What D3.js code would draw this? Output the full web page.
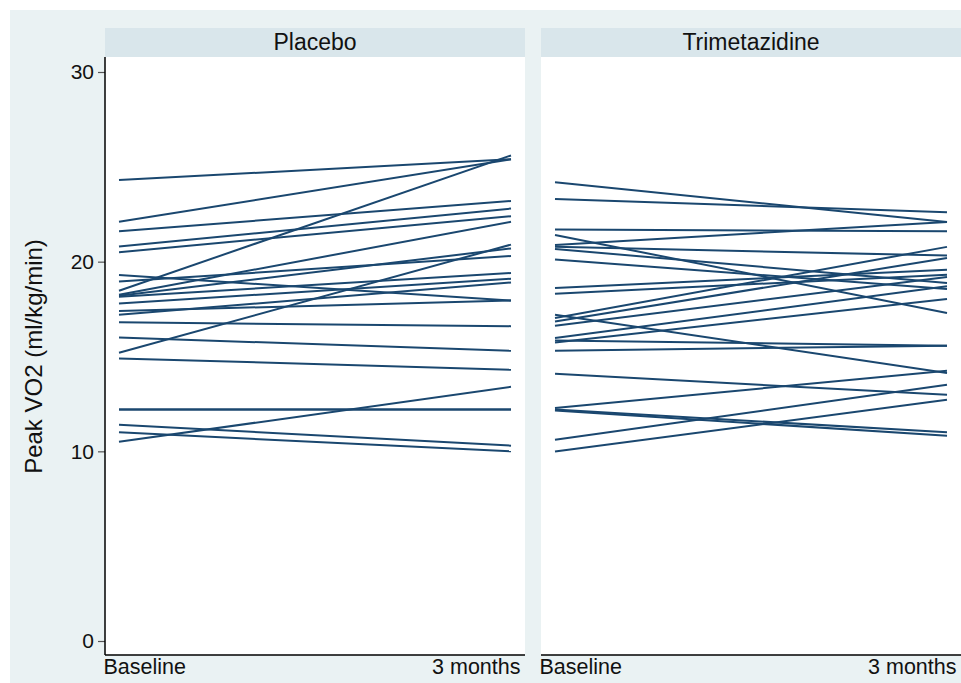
<!DOCTYPE html>
<html>
<head>
<meta charset="utf-8">
<script src="https://cdn.jsdelivr.net/npm/d3@7"></script>
<style>
  body { margin: 0; background: #fff; }
  text { font-family: "Liberation Sans", Arial, sans-serif; }
</style>
</head>
<body>
<script>
const WIDTH = 961
const HEIGHT = 683

// donnees
const groups = ["Placebo", "Trimetazidine"]
const timepoints = ["Baseline", "3 months"]
const yTicks = [0, 10, 20, 30]

const placeboBaseline = [24.3, 22.1, 21.6, 20.8, 20.5, 19.3, 18.95, 18.47, 18.25, 18.2, 18.15, 17.8, 17.4, 17.2, 16.8, 16.0, 15.2, 14.9, 12.2, 12.2, 11.4, 11.0, 10.5]
const placeboMonth3 = [25.4, 25.4, 23.2, 22.8, 22.4, 17.95, 20.3, 25.6, 22.1, 20.7, 19.4, 19.1, 17.95, 18.9, 16.6, 15.3, 20.9, 14.3, 12.2, 12.2, 10.3, 10.0, 13.4]

const tmzBaseline = [24.19, 23.31, 21.69, 21.41, 20.88, 20.78, 20.67, 20.11, 18.61, 18.31, 17.2, 17.03, 16.85, 16.62, 15.97, 15.85, 15.74, 15.3, 14.09, 12.28, 12.2, 12.15, 10.61, 9.99]
const tmzMonth3 = [22.09, 22.6, 21.6, 17.29, 22.09, 20.32, 18.88, 18.56, 19.58, 19.31, 14.13, 20.78, 20.19, 19.19, 18.7, 15.57, 18.03, 15.57, 12.98, 14.25, 11.0, 10.82, 13.51, 12.72]

const panels = [
  { name: groups[0], pairs: placeboBaseline.map((b, i) => [b, placeboMonth3[i]]) },
  { name: groups[1], pairs: tmzBaseline.map((b, i) => [b, tmzMonth3[i]]) }
]

const PANEL_W = 420
const PANEL_X = [105, 541]
const STRIP_TOP = 28
const PLOT_TOP = 57
const PLOT_BOTTOM = 655

const svg = d3.select('body').append('svg').attr('width', WIDTH).attr('height', HEIGHT)

// fond general
svg.append('rect')
  .attr('x', 10).attr('y', 10)
  .attr('width', WIDTH - 10).attr('height', HEIGHT - 10)
  .attr('fill', '#eaf2f3')

const y = d3.scaleLinear().domain([0, 30]).range([641, 72])
const x = d3.scalePoint().domain(timepoints).range([14, 406])

const line = d3.line()
  .x((d, i) => x(timepoints[i]))
  .y(d => y(d))

panels.forEach((p, k) => {
  const g = svg.append('g').attr('transform', `translate(${PANEL_X[k]}, 0)`)

  // bandeau du titre
  g.append('rect')
    .attr('x', 0).attr('y', STRIP_TOP)
    .attr('width', PANEL_W).attr('height', PLOT_TOP - STRIP_TOP)
    .attr('fill', '#d9e6eb')
  g.append('text')
    .attr('x', PANEL_W / 2).attr('y', PLOT_TOP - 7)
    .attr('text-anchor', 'middle')
    .attr('font-size', 23)
    .attr('fill', '#111')
    .text(p.name)

  // zone du graphique
  g.append('rect')
    .attr('x', 0).attr('y', PLOT_TOP)
    .attr('width', PANEL_W).attr('height', PLOT_BOTTOM - PLOT_TOP)
    .attr('fill', '#fff')

  g.selectAll('path.subject')
    .data(p.pairs)
    .enter()
    .append('path')
    .attr('class', 'subject')
    .attr('d', line)
    .attr('fill', 'none')
    .attr('stroke', '#1a476f')
    .attr('stroke-width', 2)

  // axe x
  const axisX = g.append('g')
    .attr('transform', `translate(0, ${PLOT_BOTTOM})`)
    .call(d3.axisBottom(x).tickSize(0).tickPadding(4))
  axisX.select('.domain').remove()
  axisX.selectAll('text')
    .attr('font-size', 21.5)
    .attr('fill', '#111')
    .attr('font-family', '"Liberation Sans", Arial, sans-serif')
    .attr('text-anchor', (d, i) => i === 0 ? 'start' : 'end')
    .attr('dx', (d, i) => i === 0 ? -16 : 9)
  g.append('line')
    .attr('x1', 0).attr('x2', PANEL_W)
    .attr('y1', PLOT_BOTTOM).attr('y2', PLOT_BOTTOM)
    .attr('stroke', '#000').attr('stroke-width', 1.5)
})

// axe y
const axisY = svg.append('g')
  .attr('transform', `translate(${PANEL_X[0]}, 0)`)
  .call(d3.axisLeft(y).tickValues(yTicks).tickSize(7).tickPadding(4))
axisY.select('.domain').remove()
axisY.selectAll('.tick line').attr('stroke', '#555').attr('stroke-width', 1.2)
axisY.selectAll('text')
  .attr('font-size', 21)
  .attr('fill', '#111')
  .attr('font-family', '"Liberation Sans", Arial, sans-serif')
svg.append('line')
  .attr('x1', PANEL_X[0]).attr('x2', PANEL_X[0])
  .attr('y1', PLOT_TOP).attr('y2', PLOT_BOTTOM)
  .attr('stroke', '#000').attr('stroke-width', 1.5)

svg.append('text')
  .attr('transform', `translate(42, ${(y(0) + y(30)) / 2}) rotate(-90)`)
  .attr('text-anchor', 'middle')
  .attr('font-size', 24)
  .attr('fill', '#111')
  .text('Peak VO2 (ml/kg/min)')
</script>
</body>
</html>
